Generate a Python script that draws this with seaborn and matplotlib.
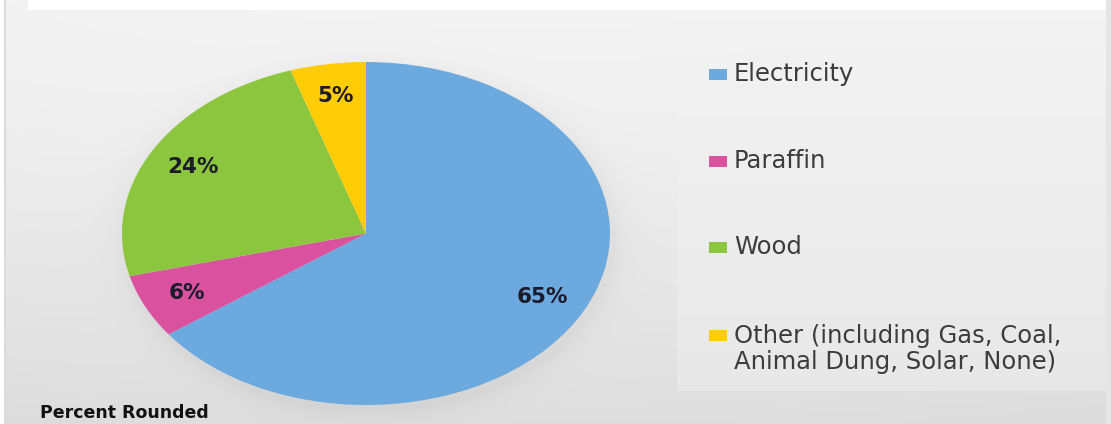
import numpy as np
import matplotlib
matplotlib.use("Agg")
import matplotlib.pyplot as plt
import seaborn as sns
from matplotlib.patches import Rectangle

# Household energy source shares (percent, rounded)
categories = ["Electricity", "Paraffin", "Wood",
              "Other (including Gas, Coal,\nAnimal Dung, Solar, None)"]
shares = [65, 6, 24, 5]
colors = ["#6CA9DE", "#D9519F", "#8CC63F", "#FFCC05"]
note = "Percent Rounded"

sns.set_theme(style="white")
plt.rcParams["font.family"] = ["DejaVu Sans"]

W, H = 1111, 424
fig = plt.figure(figsize=(W / 100, H / 100), dpi=100)

# ---- backdrop: soft grey gradient, pie shadow, lighter legend panel ----
bg = fig.add_axes([0, 0, 1, 1])
bg.set_axis_off()
yy, xx = np.mgrid[0:H, 0:W].astype(float)
shade = 0.955 - 0.085 * (yy / H) ** 1.4 - 0.03 * ((xx - W * 0.45) / W) ** 2
cx, cy, rx, ry = 366, 234, 244, 172
d = np.sqrt(((xx - cx - 3) / rx) ** 2 + ((yy - cy - 5) / ry) ** 2)
shade -= 0.04 * np.exp(-np.clip(d - 1, 0, None) * 18)
panel = (xx >= 677) & (xx <= 1105) & (yy >= 12) & (yy <= 390)
shade[panel] = np.maximum(shade[panel], (0.955 - 0.05 * (yy / H))[panel])
shade[0:10, 28:] = 1.0
shade[:, 0:4] = 1.0
shade[:, 4:6] = 0.86
shade[:, 1106:] = 0.9
shade = np.clip(shade, 0, 1)
bg.imshow(np.dstack([shade] * 3), extent=(0, W, H, 0), aspect="auto",
          interpolation="bilinear")
bg.set_xlim(0, W)
bg.set_ylim(H, 0)

# ---- pie (stretched into an ellipse) ----
ax = fig.add_axes([122 / W, (H - 405) / H, 488 / W, 343 / H])
ax.pie(shares, colors=colors, startangle=90, counterclock=False,
       autopct=lambda p: f"{p:.0f}%", pctdistance=0.81,
       wedgeprops=dict(linewidth=0),
       textprops=dict(fontweight="bold", fontsize=15.5, color="#1b1b2b"))
ax.set_aspect("auto")
ax.set_xlim(-1, 1)
ax.set_ylim(-1, 1)
ax.patch.set_alpha(0)

# ---- legend ----
centers = [74, 161, 247, 335]
for cat, col, yc in zip(categories, colors, centers):
    bg.add_patch(Rectangle((709, yc - 5.5), 18, 11, facecolor=col,
                           edgecolor="none"))
    if "\n" in cat:
        bg.text(734, yc + 14, cat, ha="left", va="center", fontsize=17.5,
                color="#3c3c3c", linespacing=1.12)
    else:
        bg.text(734, yc, cat, ha="left", va="center", fontsize=17.5,
                color="#3c3c3c")

bg.text(40, 413, note, ha="left", va="center", fontsize=12.5,
        fontweight="bold", color="#111111")

fig.savefig("out.png", dpi=100)
